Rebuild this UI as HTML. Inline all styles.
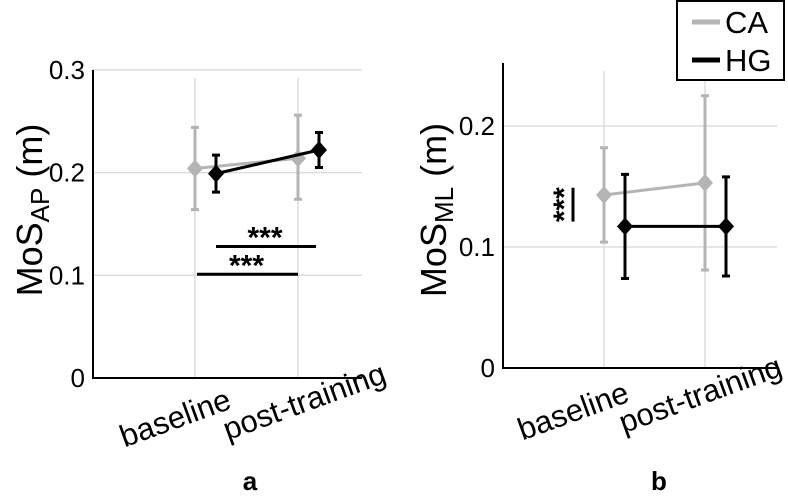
<!DOCTYPE html>
<html><head><meta charset="utf-8"><style>
body{margin:0;background:#fff}
svg{display:block;font-family:"Liberation Sans",Arial,sans-serif}
</style></head><body>
<svg id="c" width="788" height="496" viewBox="0 0 788 496"></svg>
<script>
const categories=["baseline","post-training"];
const apCA=[0.204,0.214], apCAlo=[0.164,0.174], apCAhi=[0.244,0.256];
const apHG=[0.199,0.222], apHGlo=[0.181,0.205], apHGhi=[0.217,0.239];
const mlCA=[0.143,0.153], mlCAlo=[0.104,0.081], mlCAhi=[0.182,0.225];
const mlHG=[0.117,0.117], mlHGlo=[0.074,0.076], mlHGhi=[0.160,0.158];
const apTicks=["0","0.1","0.2","0.3"], apTickVals=[0,0.1,0.2,0.3];
const mlTicks=["0","0.1","0.2"], mlTickVals=[0,0.1,0.2];
const apSig=[0.128,0.101];
const mlSig=[0.149,0.121];
const NS="http://www.w3.org/2000/svg";
const svg=document.getElementById('c');
function mk(t,a,p){const e=document.createElementNS(NS,t);for(const k in a)e.setAttribute(k,a[k]);(p||svg).appendChild(e);return e;}
function panel(cfg){
 const g=mk('g',{});
 
 
 const y=v=>cfg.y0-(v/0.1)*cfg.py;
 const x=i=>cfg.x0+i*cfg.dx;
 cfg.tv.forEach((v,i)=>{ if(v>0){const l=mk('line',{x1:cfg.ax,x2:cfg.gx,y1:y(v),y2:y(v),stroke:'#ddd','stroke-width':1.5},g);}
  const t=mk('text',{x:cfg.ax-8,y:y(v)+9,'text-anchor':'end','font-size':26},g);t.textContent=cfg.tl[i];
  });
 categories.forEach((c,i)=>{const l=mk('line',{x1:x(i),x2:x(i),y1:cfg.top+8,y2:cfg.y0,stroke:'#ddd','stroke-width':1.5},g);
  
  const p=cfg.lab[i];
  const t=mk('text',{x:0,y:0,'text-anchor':'end','font-size':31,transform:`translate(${p[0]},${p[1]}) rotate(-20)`},g);t.textContent=c;
  });
 const ax=mk('path',{d:`M${cfg.ax},${cfg.top}V${cfg.y0}H${cfg.gx}`,stroke:'#000','stroke-width':2,fill:'none'},g);
 
 function series(vals,lo,hi,off,col,nm){
  const pts=vals.map((v,i)=>[x(i)+off,y(v)]);
  const pl=mk('polyline',{points:pts.map(p=>p.join(',')).join(' '),fill:'none',stroke:col,'stroke-width':3},g);
  
  vals.forEach((v,i)=>{const cx=x(i)+off;
   const e=mk('path',{d:`M${cx},${y(lo[i])}V${y(hi[i])}M${cx-4},${y(lo[i])}H${cx+4}M${cx-4},${y(hi[i])}H${cx+4}`,stroke:col,'stroke-width':3,fill:'none'},g);
   
   const cy=y(v);
   const d=mk('path',{d:`M${cx},${cy-9}L${cx+8},${cy}L${cx},${cy+9}L${cx-8},${cy}Z`,fill:col},g);
   });
 }
 series(cfg.ca,cfg.cal,cfg.cah,0,'#b4b4b4','ca');
 series(cfg.hg,cfg.hgl,cfg.hgh,21,'#000','hg');
 const yl=mk('text',{x:0,y:0,'font-size':36,'text-anchor':'middle',transform:`translate(${cfg.ylx},${cfg.yly}) rotate(-90)`},g);
 yl.innerHTML=`MoS<tspan font-size="26" dy="7">${cfg.sub}</tspan><tspan dy="-7"> (m)</tspan>`;
 
 const pl=mk('text',{x:cfg.lx,y:490,'font-size':26,'font-weight':'bold','text-anchor':'middle'},g);pl.textContent=cfg.label;
 
 return {g,y,x};
}
const A=panel({name:'panel-a',ax:93,gx:362,y0:378,py:102.7,top:70,x0:195,dx:103,tv:apTickVals,tl:apTicks,ca:apCA,cal:apCAlo,cah:apCAhi,hg:apHG,hgl:apHGlo,hgh:apHGhi,sub:'AP',ylx:42,yly:210,lx:250,label:'a',lab:[[233,408],[388,382]]});
[[216,316,apSig[0]],[197,298,apSig[1]]].forEach(([a,b,v],i)=>{
 const l=mk('line',{x1:a,x2:b,y1:A.y(v),y2:A.y(v),stroke:'#000','stroke-width':3},A.g);
 
 const t=mk('text',{x:(a+b)/2-1,y:A.y(v)+1,'font-size':30,'font-weight':'bold','text-anchor':'middle'},A.g);t.textContent='***';
 });
const B=panel({name:'panel-b',ax:503,gx:777,y0:368,py:121,top:63,x0:604,dx:101,tv:mlTickVals,tl:mlTicks,ca:mlCA,cal:mlCAlo,cah:mlCAhi,hg:mlHG,hgl:mlHGlo,hgh:mlHGhi,sub:'ML',ylx:446,yly:210,lx:659,label:'b',lab:[[631,401],[784,375]]});
{const l=mk('line',{x1:573,x2:573,y1:B.y(mlSig[0]),y2:B.y(mlSig[1]),stroke:'#000','stroke-width':3},B.g);
 
 const t=mk('text',{x:0,y:0,'font-size':30,'font-weight':'bold','text-anchor':'middle',transform:`translate(574,${(B.y(mlSig[0])+B.y(mlSig[1]))/2}) rotate(-90)`},B.g);t.textContent='***';
 }
const lg=mk('g',{});

mk('rect',{x:677,y:1,width:107,height:79,fill:'#fff',stroke:'#000','stroke-width':2},lg);
[['CA','#b4b4b4',22],['HG','#000',60]].forEach(([n,c,yy])=>{
 const e=mk('g',{},lg);
 mk('line',{x1:692,x2:720,y1:yy,y2:yy,stroke:c,'stroke-width':5},e);
 const t=mk('text',{x:725,y:yy+11,'font-size':31},e);t.textContent=n;});
</script>
</body></html>
